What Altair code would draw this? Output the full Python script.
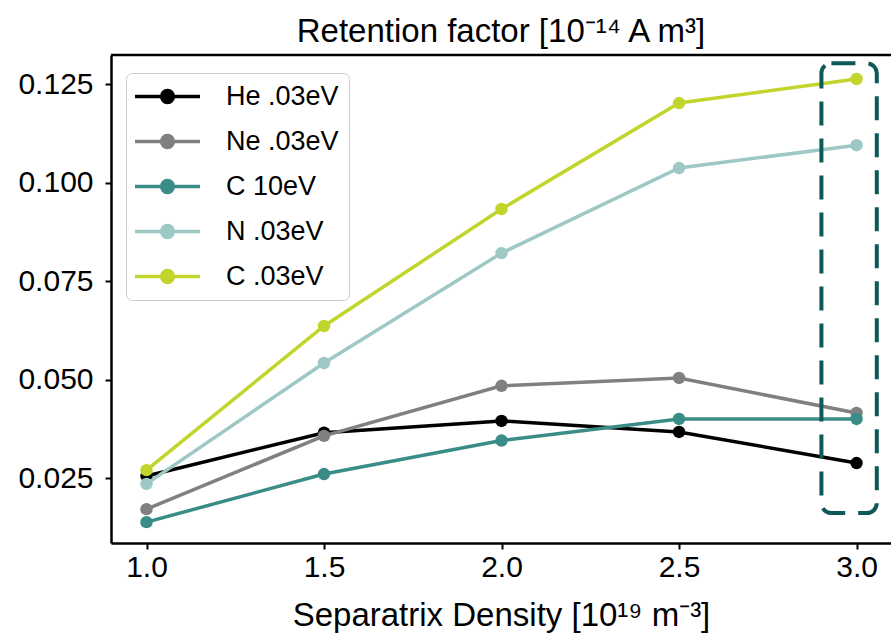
import altair as alt
import pandas as pd

# ---- data ----
density = [1.0, 1.5, 2.0, 2.5, 3.0]
series_names = ["He .03eV", "Ne .03eV", "C 10eV", "N .03eV", "C .03eV"]
he_03 = [0.0255, 0.0365, 0.0395, 0.0367, 0.0288]
ne_03 = [0.0171, 0.0357, 0.0484, 0.0504, 0.0415]
c_10 = [0.0138, 0.0260, 0.0345, 0.0400, 0.0400]
n_03 = [0.0235, 0.0542, 0.0821, 0.1037, 0.1095]
c_03 = [0.0270, 0.0636, 0.0933, 0.1202, 0.1263]
series_colors = ["#000000", "#808080", "#3a8c87", "#9dc8c5", "#c2d52c"]

x_ticks = [1.0, 1.5, 2.0, 2.5, 3.0]
y_ticks = [0.025, 0.050, 0.075, 0.100, 0.125]
x_domain = [0.9, 3.097]
y_domain = [0.0085, 0.1324]

# highlight box around the last density point
box_x = [2.901, 3.057]
box_y = [0.0161, 0.1303]

FONT = "Liberation Sans, Arial, sans-serif"

values = [he_03, ne_03, c_10, n_03, c_03]
rows = []
for name, vals in zip(series_names, values):
    for x, y in zip(density, vals):
        rows.append({"density": x, "value": y, "series": name})
df = pd.DataFrame(rows)
box_df = pd.DataFrame({"x": [box_x[0]], "x2": [box_x[1]], "y": [box_y[0]], "y2": [box_y[1]]})

xscale = alt.Scale(domain=x_domain, nice=False, zero=False)
yscale = alt.Scale(domain=y_domain, nice=False, zero=False)
cscale = alt.Scale(domain=series_names, range=series_colors)

legend_path = (
    "M-3.25,0L3.25,0"
    "M-0.6,0A0.6,0.6 0 1,0 0.6,0A0.6,0.6 0 1,0 -0.6,0Z"
    "M-0.3,0A0.3,0.3 0 1,0 0.3,0A0.3,0.3 0 1,0 -0.3,0Z"
    "M-0.05,0A0.05,0.05 0 1,0 0.05,0A0.05,0.05 0 1,0 -0.05,0Z"
)

legend = alt.Legend(
    title=None,
    orient="none",
    legendX=15,
    legendY=18,
    symbolType=legend_path,
    symbolSize=400,
    symbolStrokeWidth=3.3,
    symbolOffset=18,
    labelOffset=45,
    labelFont=FONT,
    labelFontSize=27,
    labelColor="black",
    rowPadding=17,
    padding=10,
    strokeColor="#cccccc",
    fillColor="white",
    cornerRadius=6,
)

x_enc = alt.X(
    "density:Q",
    scale=xscale,
    axis=alt.Axis(values=x_ticks, format=".1f", title="Separatrix Density [10¹⁹ m⁻³]",
                  labelPadding=3, titlePadding=17),
)
y_enc = alt.Y(
    "value:Q",
    scale=yscale,
    axis=alt.Axis(values=y_ticks, format=".3f", title=None, labelPadding=12),
)

layers = []
for i, name in enumerate(series_names):
    base = alt.Chart(df).transform_filter(alt.datum.series == name)
    line = base.mark_line(strokeWidth=3.5).encode(
        x=x_enc,
        y=y_enc,
        color=alt.Color("series:N", scale=cscale, legend=legend),
    )
    pts = base.mark_circle(size=155, opacity=1).encode(
        x="density:Q",
        y="value:Q",
        color=alt.Color("series:N", scale=cscale, legend=legend),
    )
    layers += [line, pts]

box = alt.Chart(box_df).mark_rect(
    fill="transparent",
    stroke="#0d5957",
    strokeWidth=4,
    strokeDash=[24, 13],
    cornerRadius=10,
).encode(
    x="x:Q",
    x2="x2:Q",
    y="y:Q",
    y2="y2:Q",
)

# top spine of the frame
top_spine = alt.Chart(box_df).mark_rule(color="black", strokeWidth=2.5).encode(
    x=alt.value(0), x2=alt.value(780), y=alt.value(0)
)

chart = (
    alt.layer(*layers, box, top_spine)
    .properties(
        width=780,
        height=488,
        autosize=alt.AutoSizeParams(type="none"),
        padding={"left": 111, "top": 55, "right": 0, "bottom": 93},
        title=alt.TitleParams(
            "Retention factor [10⁻¹⁴ A m³]",
            font=FONT,
            fontSize=33,
            fontWeight="normal",
            color="black",
            anchor="middle",
            frame="group",
            baseline="bottom",
            offset=10,
            dy=38,
        ),
    )
    .configure_view(stroke=None)
    .configure_axis(
        grid=False,
        domainColor="black",
        domainWidth=2.5,
        tickColor="black",
        tickWidth=2,
        tickSize=6,
        labelFont=FONT,
        labelFontSize=30,
        labelColor="black",
        titleFont=FONT,
        titleFontSize=33,
        titleFontWeight="normal",
        titleColor="black",
    )
)

chart.save("out.html", embed_options={"renderer": "svg", "actions": False})
